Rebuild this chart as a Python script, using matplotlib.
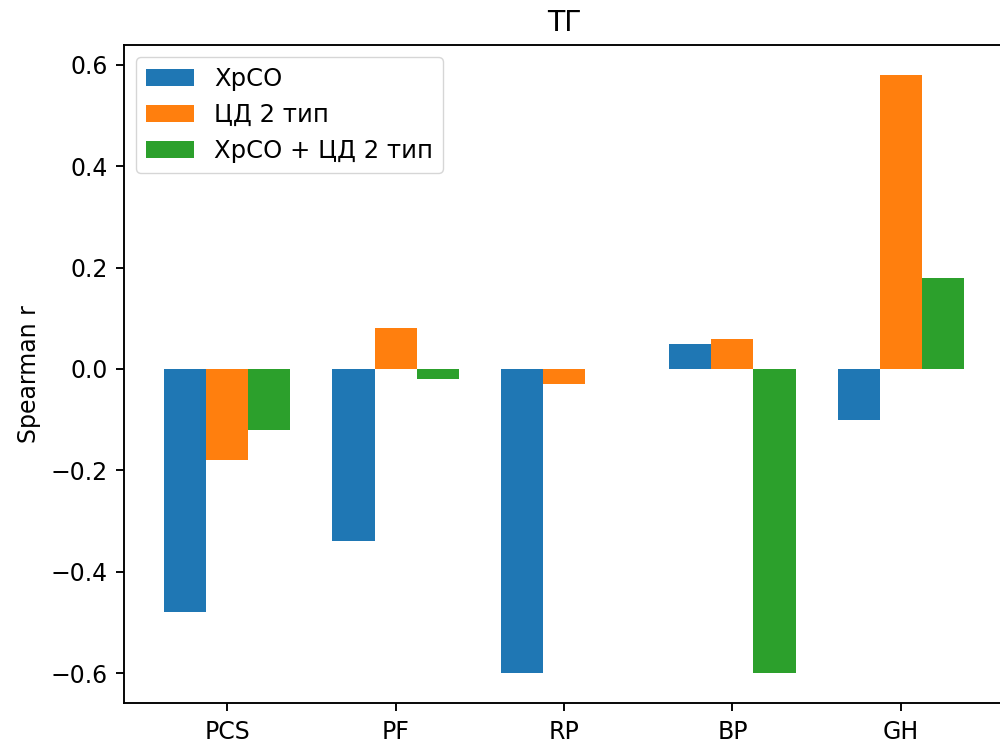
import numpy as np
import matplotlib.pyplot as plt

# everything drawn ~1.7x the matplotlib defaults
s = 1.7
plt.rcParams.update({
    'font.size': 10 * s,
    'axes.linewidth': 0.8 * s,
    'axes.labelpad': 4 * s,
    'axes.titlepad': 6 * s,
    'xtick.major.size': 3.5 * s,
    'ytick.major.size': 3.5 * s,
    'xtick.major.width': 0.8 * s,
    'ytick.major.width': 0.8 * s,
    'xtick.major.pad': 3.5 * s,
    'ytick.major.pad': 3.5 * s,
})

params = ['PCS', 'PF', 'RP', 'BP', 'GH']
groups = ['ХрСО', 'ЦД 2 тип', 'ХрСО + ЦД 2 тип']
r_hrso = [-0.48, -0.34, -0.60, 0.05, -0.10]
r_cd2 = [-0.18, 0.08, -0.03, 0.06, 0.58]
r_both = [-0.12, -0.02, 0.0, -0.60, 0.18]

x = np.arange(len(params))
w = 0.25

fig = plt.figure(figsize=(10, 7.44), dpi=100)
# right edge of the axes runs just past the canvas
ax = fig.add_axes([0.124, 0.055, 0.88, 0.8845])
ax.spines['right'].set_visible(False)

ax.bar(x - w, r_hrso, w, label=groups[0])
ax.bar(x, r_cd2, w, label=groups[1])
ax.bar(x + w, r_both, w, label=groups[2])

ax.set_xticks(x)
ax.set_xticklabels(params)
ax.set_ylabel('Spearman r')
ax.set_title('ТГ')
ax.legend(loc='upper left', fontsize=17.5)

fig.savefig('out.png')
